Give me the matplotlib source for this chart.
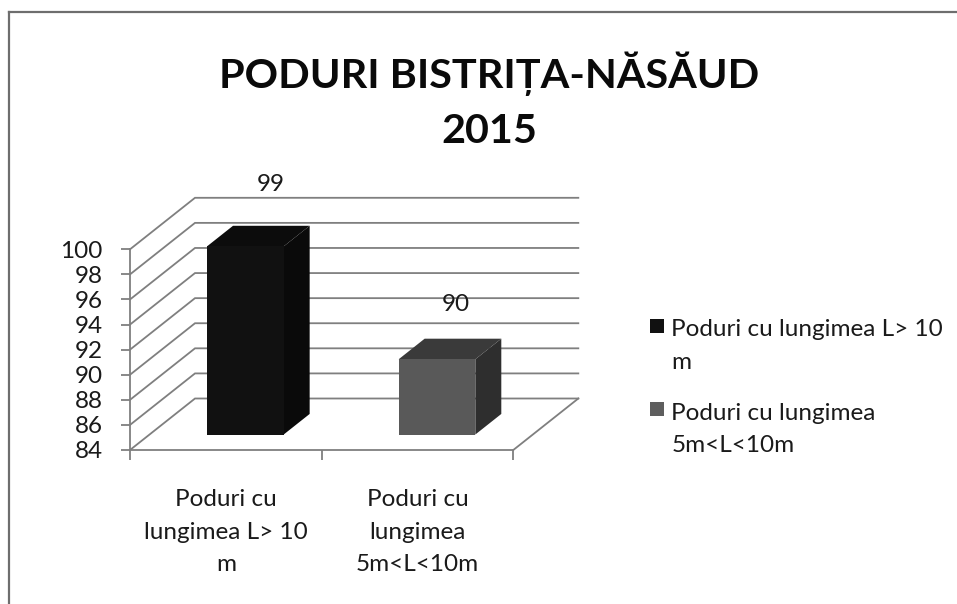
import matplotlib
matplotlib.use("Agg")
import matplotlib.pyplot as plt
from matplotlib.lines import Line2D
from matplotlib.patches import Patch, Rectangle
from matplotlib.legend_handler import HandlerPatch

title = "PODURI BISTRIȚA-NĂSĂUD\n2015"
categories = ["Poduri cu\nlungimea L> 10\nm", "Poduri cu\nlungimea\n5m<L<10m"]
legend_labels = ["Poduri cu lungimea L> 10\nm", "Poduri cu lungimea\n5m<L<10m"]
values = [99, 90]
y_ticks = [84, 86, 88, 90, 92, 94, 96, 98, 100]

W, H = 957, 604
FONT = "Lato"
GRID = "#7f7f7f"
TEXT = "#1a1a1a"
front_cols = ["#111111", "#595959"]
top_cols = ["#0c0c0c", "#3a3a3a"]
side_cols = ["#0a0a0a", "#2e2e2e"]
swatch_cols = ["#111111", "#5e5e5e"]

fig = plt.figure(figsize=(W / 100, H / 100), dpi=100, facecolor="white")
L, R, T, B = 130, 513.3, 249.3, 450
ax = fig.add_axes([L / W, 1 - B / H, (R - L) / W, (B - T) / H])
ax.set_xlim(0, 2)
ax.set_ylim(84, 100)
ax.patch.set_visible(False)
for s in ("top", "right"):
    ax.spines[s].set_visible(False)
for s in ("left", "bottom"):
    ax.spines[s].set_color(GRID)
    ax.spines[s].set_linewidth(1.3)

# oblique depth vector, in data units
DX = 65 / ((R - L) / 2)
DY = 51.5 / ((B - T) / 16)

def proj(u, v, d):
    return u + d * DX, v + d * DY

# walls
for v in y_ticks:
    x0, y0 = proj(0, v, 0)
    x1, y1 = proj(0, v, 1)
    x2, y2 = proj(2, v, 1)
    ax.plot([x0, x1, x2], [y0, y1, y2], color=GRID, lw=1.3, clip_on=False, zorder=1,
            solid_joinstyle="miter")
xa, ya = proj(2, y_ticks[0], 0)
xb, yb = proj(2, y_ticks[0], 1)
ax.plot([xa, xb], [ya, yb], color=GRID, lw=1.3, clip_on=False, zorder=1)

# bars
d0, d1 = 0.3, 0.7
bw = 0.4
for i, v in enumerate(values):
    c = i + 0.5
    l, r = c - bw / 2, c + bw / 2
    base = y_ticks[0]
    front = [proj(l, base, d0), proj(r, base, d0), proj(r, v, d0), proj(l, v, d0)]
    side = [proj(r, base, d0), proj(r, base, d1), proj(r, v, d1), proj(r, v, d0)]
    top = [proj(l, v, d0), proj(r, v, d0), proj(r, v, d1), proj(l, v, d1)]
    for poly, col in ((side, side_cols[i]), (top, top_cols[i]), (front, front_cols[i])):
        xs, ys = zip(*poly)
        ax.fill(xs, ys, color=col, lw=0, clip_on=False, zorder=3)

# value labels (offset from the bar's rear top edge, in px)
label_offsets = [(-1, 41), (-7, 34.5)]
for i, v in enumerate(values):
    x, y = proj(i + 0.5, v, d1)
    dx, dy = label_offsets[i]
    ax.annotate(str(v), (x, y), xytext=(dx * 0.72, dy * 0.72), textcoords="offset points",
                ha="center", va="center", fontsize=17.5, family=FONT, color=TEXT, zorder=5,
                annotation_clip=False)

# axes ticks
ax.set_yticks(y_ticks)
ax.set_yticklabels([str(t) for t in y_ticks], fontsize=17.5, family=FONT, color=TEXT)
ax.tick_params(axis="y", length=6.5, width=1.3, color=GRID, pad=13)
ax.set_xticks([0, 1, 2])
ax.set_xticklabels([])
ax.tick_params(axis="x", which="major", length=7.2, width=1.3, color=GRID)
ax.set_xticks([0.5, 1.5], minor=True)
ax.set_xticklabels(categories, minor=True, fontsize=17.5, family=FONT, color=TEXT,
                   linespacing=1.69, multialignment="center")
ax.tick_params(axis="x", which="minor", length=0, pad=28)

# legend
class FirstLineSwatch(HandlerPatch):
    def create_artists(self, legend, orig, xd, yd, w, h, fs, trans):
        p = Rectangle((0, 15.5), 14 * 0.72, 14 * 0.72, facecolor=orig.get_facecolor(),
                      edgecolor="none", transform=trans)
        return [p]

handles = [Patch(color=c) for c in swatch_cols]
leg = ax.legend(handles, legend_labels, loc="upper left",
                bbox_to_anchor=(650 / W, 1 - 319.5 / H), bbox_transform=fig.transFigure,
                frameon=False, borderpad=0, borderaxespad=0, handlelength=0.58, handletextpad=0.3,
                labelspacing=1.22, prop={"family": FONT, "size": 17.5},
                handler_map={Patch: FirstLineSwatch()})
for t in leg.get_texts():
    t.set_linespacing(1.68)
    t.set_color(TEXT)

# title
fig.text(489 / W, 1 - 101 / H, title, ha="center", va="center", fontsize=29.8, fontweight="bold",
         family=FONT, color="#0a0a0a", linespacing=1.56)

# chart frame
fig.add_artist(Line2D([9 / W, 9 / W], [0, 1 - 12 / H], color="#6e6e6e", lw=1.6))
fig.add_artist(Line2D([9 / W, 1], [1 - 12 / H, 1 - 12 / H], color="#6e6e6e", lw=1.6))

fig.savefig("out.png", dpi=100)
